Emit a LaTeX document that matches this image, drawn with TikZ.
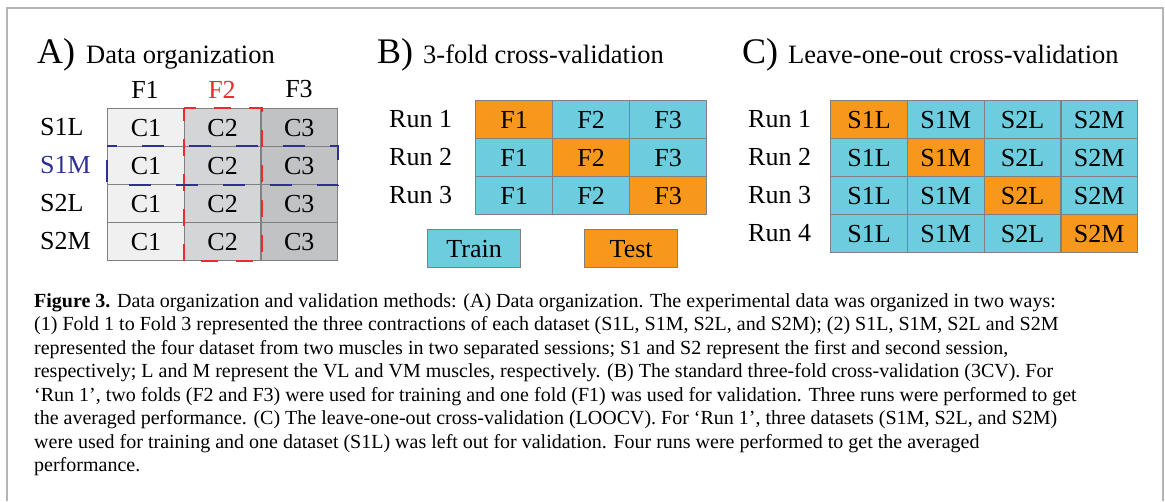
\documentclass[tikz,border=0pt]{standalone}
\usepackage{fontspec}
\setmainfont{Liberation Serif}
\definecolor{cellgray}{HTML}{808080}
\definecolor{framegray}{HTML}{B4B4B4}
\definecolor{colA}{HTML}{F0F0F0}
\definecolor{colB}{HTML}{D4D5D7}
\definecolor{colC}{HTML}{C1C2C4}
\definecolor{cyanF}{HTML}{6DCDDE}
\definecolor{orangeF}{HTML}{F7981D}
\definecolor{redF}{HTML}{EE2A2E}
\definecolor{blueF}{HTML}{2E3192}
\begin{document}
\begin{tikzpicture}[x=1pt,y=-1pt,
  cellbox/.style={draw=cellgray,line width=1.3pt,minimum height=38pt,inner sep=0pt,
    anchor=north west,font=\fontsize{26}{28}\selectfont},
  lab/.style={inner sep=0pt,font=\fontsize{26}{28}\selectfont},
  bigtitle/.style={inner sep=0pt,anchor=base west,font=\fontsize{36}{40}\selectfont},
  subtitle/.style={inner sep=0pt,anchor=base west,font=\fontsize{26.5}{30}\selectfont},
  capline/.style={inner sep=0pt,anchor=base west,font=\fontsize{20}{23}\selectfont},
  reddash/.style={line width=1.8pt,redF,dash pattern=on 17pt off 18pt,dash phase=5pt},
  bluedash/.style={line width=1.8pt,blueF,dash pattern=on 22pt off 25pt,dash phase=12pt}
]
\useasboundingbox (0,0) rectangle (1165,501);
\fill[white] (0,0) rectangle (1165,501);
% frame
\draw[framegray,line width=2pt] (7,501) -- (7,8) -- (1163,8) -- (1163,501);

% ---------- A ----------
\node[bigtitle] (At) at (37,63) {A)};
\node[subtitle] (Ast) at (86,63) {Data organization};
\foreach \i in {1,...,4}{
  \foreach \j/\f in {1/colA,2/colB,3/colC}{
    \node[cellbox,fill=\f,minimum width=76.67pt] (A\i\j) at ({107+76.67*(\j-1)},{108+38*(\i-1)}) {C\j};
  }}
\node[lab] (Ah1) at (145,89.5) {F1};
\node[lab,text=redF] (Ah2) at (222,89.5) {F2};
\node[lab] (Ah3) at (299,89.5) {F3};
\node[lab,anchor=west] (Ar1) at (40,127) {S1L};
\node[lab,anchor=west,text=blueF] (Ar2) at (40,165) {S1M};
\node[lab,anchor=west] (Ar3) at (40,203) {S2L};
\node[lab,anchor=west] (Ar4) at (40,241) {S2M};
\draw[reddash] (A12.north west) -- (A12.north east) -- (A42.south east) -- (A42.south west) -- cycle;
\draw[bluedash] (A21.north west) -- (A23.north east) -- (A23.south east) -- (A21.south west) -- cycle;

% ---------- B ----------
\node[bigtitle] (Bt) at (377,63) {B)};
\node[subtitle] (Bst) at (423,63) {3-fold cross-validation};
\foreach \i in {1,2,3}{
  \node[lab,anchor=west] (Br\i) at (389,{119+38*(\i-1)}) {Run \i};
  \foreach \j in {1,2,3}{
    \ifnum\i=\j\def\fc{orangeF}\else\def\fc{cyanF}\fi
    \node[cellbox,fill=\fc,minimum width=77pt] (B\i\j) at ({475+77*(\j-1)},{100+38*(\i-1)}) {F\j};
  }}
\node[cellbox,fill=cyanF,minimum width=93pt] (train) at (427,229) {Train};
\node[cellbox,fill=orangeF,minimum width=93pt] (test) at (584,229) {Test};

% ---------- C ----------
\node[bigtitle] (Ct) at (742,63) {C)};
\node[subtitle] (Cst) at (788,63) {Leave-one-out cross-validation};
\foreach \i in {1,...,4}{
  \node[lab,anchor=west] (Cr\i) at (748,{119+38*(\i-1)}) {Run \i};
  \foreach \t [count=\j] in {S1L,S1M,S2L,S2M}{
    \ifnum\i=\j\def\fc{orangeF}\else\def\fc{cyanF}\fi
    \node[cellbox,fill=\fc,minimum width=76.75pt] (C\i\j) at ({830+76.75*(\j-1)},{100+38*(\i-1)}) {\t};
  }}

% ---------- caption ----------
\node[capline] (cap1) at (34,307) {\textbf{Figure 3.} Data organization and validation methods: (A) Data organization. The experimental data was organized in two ways:};
\node[capline] (cap2) at (34,330.5) {(1) Fold 1 to Fold 3 represented the three contractions of each dataset (S1L, S1M, S2L, and S2M); (2) S1L, S1M, S2L and S2M};
\node[capline] (cap3) at (34,354) {represented the four dataset from two muscles in two separated sessions; S1 and S2 represent the first and second session,};
\node[capline] (cap4) at (34,377.5) {respectively; L and M represent the VL and VM muscles, respectively. (B) The standard three-fold cross-validation (3CV). For};
\node[capline] (cap5) at (34,401) {‘Run 1’, two folds (F2 and F3) were used for training and one fold (F1) was used for validation. Three runs were performed to get};
\node[capline] (cap6) at (34,424.5) {the averaged performance. (C) The leave-one-out cross-validation (LOOCV). For ‘Run 1’, three datasets (S1M, S2L, and S2M)};
\node[capline] (cap7) at (34,448) {were used for training and one dataset (S1L) was left out for validation. Four runs were performed to get the averaged};
\node[capline] (cap8) at (34,471.5) {performance.};
\end{tikzpicture}
\end{document}
